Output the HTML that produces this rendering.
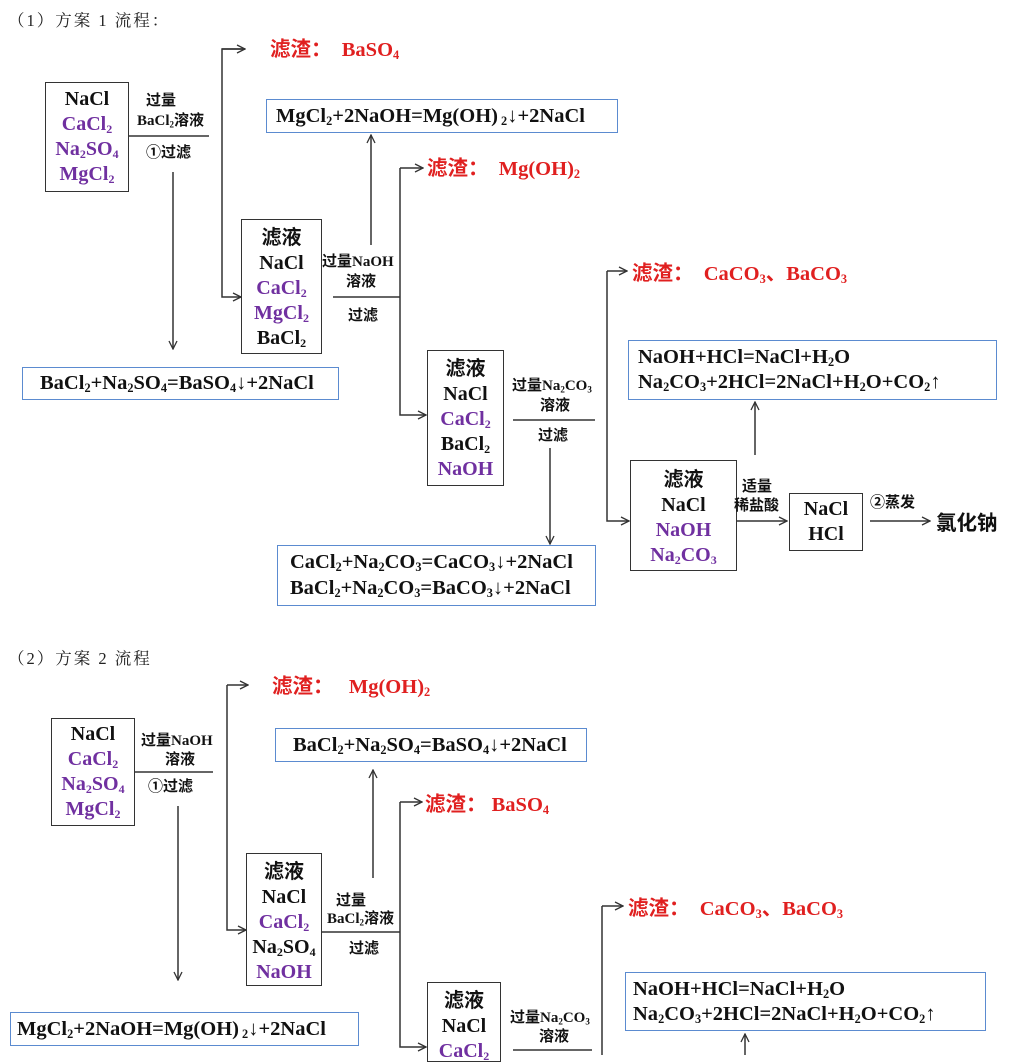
<!DOCTYPE html>
<html><head><meta charset="utf-8">
<style>
*{margin:0;padding:0;box-sizing:border-box}
body{width:1020px;height:1055px;background:#fff;position:relative;overflow:hidden;font-family:"Liberation Serif","Noto Serif CJK SC",serif;font-weight:bold;color:#111}
.t{position:absolute;white-space:nowrap;line-height:1}
.f{font-size:20.5px}
.s{font-size:15px;font-family:"Liberation Serif","Noto Sans CJK SC",sans-serif}
.cj{font-family:"Noto Sans CJK SC",sans-serif}
.p{color:#7030a0}
.r{color:#e02020}
.box{position:absolute;border:1.5px solid #333}
.eq{position:absolute;border:1.5px solid #5b8bd0}
.title{position:absolute;font-family:"Liberation Serif","Noto Serif CJK SC",serif;font-weight:normal;font-size:16.5px;letter-spacing:2px;color:#222}
sub{font-size:0.6em;vertical-align:-0.25em;line-height:0}
.ctr{position:absolute;text-align:center;font-size:20px;line-height:25px}
</style></head><body>
<svg width="1020" height="1055" style="position:absolute;left:0;top:0" fill="none" stroke="#333" stroke-width="1.5">
<defs><marker id="a" markerWidth="10" markerHeight="10" refX="9" refY="5" orient="auto" markerUnits="userSpaceOnUse"><path d="M1,1 L9,5 L1,9" fill="none" stroke="#333" stroke-width="1.3"/></marker></defs>
<line x1="128" y1="136" x2="209" y2="136"/>
<line x1="173" y1="172" x2="173" y2="349" marker-end="url(#a)"/>
<polyline points="245,49 222,49 222,297 241,297" marker-end="url(#a)"/>
<line x1="222" y1="49" x2="245" y2="49" marker-end="url(#a)"/>
<line x1="333" y1="297" x2="400" y2="297"/>
<line x1="371" y1="245" x2="371" y2="135" marker-end="url(#a)"/>
<polyline points="400,168 400,415 426,415" marker-end="url(#a)"/>
<line x1="400" y1="168" x2="423" y2="168" marker-end="url(#a)"/>
<line x1="513" y1="420" x2="595" y2="420"/>
<line x1="550" y1="448" x2="550" y2="544" marker-end="url(#a)"/>
<polyline points="607,271 607,521 629,521" marker-end="url(#a)"/>
<line x1="607" y1="271" x2="627" y2="271" marker-end="url(#a)"/>
<line x1="755" y1="455" x2="755" y2="402" marker-end="url(#a)"/>
<line x1="736" y1="521" x2="787" y2="521" marker-end="url(#a)"/>
<line x1="870" y1="521" x2="930" y2="521" marker-end="url(#a)"/>
<line x1="134" y1="772" x2="213" y2="772"/>
<line x1="178" y1="806" x2="178" y2="980" marker-end="url(#a)"/>
<polyline points="227,685 227,930 246,930" marker-end="url(#a)"/>
<line x1="227" y1="685" x2="248" y2="685" marker-end="url(#a)"/>
<line x1="322" y1="932" x2="400" y2="932"/>
<line x1="373" y1="878" x2="373" y2="770" marker-end="url(#a)"/>
<polyline points="400,802 400,1047 426,1047" marker-end="url(#a)"/>
<line x1="400" y1="802" x2="422" y2="802" marker-end="url(#a)"/>
<line x1="513" y1="1050" x2="592" y2="1050"/>
<line x1="602" y1="906" x2="602" y2="1055"/>
<line x1="602" y1="906" x2="623" y2="906" marker-end="url(#a)"/>
<line x1="745" y1="1055" x2="745" y2="1034" marker-end="url(#a)"/>
</svg>

<div class="title" style="left:8px;top:7px">（1）方案 1 流程：</div>

<div class="box" style="left:45px;top:82px;width:84px;height:110px"></div>
<div class="ctr" style="left:45px;top:87px;width:84px">NaCl<br><span class="p">CaCl<sub>2</sub></span><br><span class="p">Na<sub>2</sub>SO<sub>4</sub></span><br><span class="p">MgCl<sub>2</sub></span></div>
<div class="t s" style="left:146px;top:94px">过量</div>
<div class="t s" style="left:137px;top:114px">BaCl<sub>2</sub>溶液</div>
<div class="t s" style="left:146px;top:146px">①过滤</div>

<div class="eq" style="left:22px;top:367px;width:317px;height:33px"></div>
<div class="t f" style="left:40px;top:373px">BaCl<sub>2</sub>+Na<sub>2</sub>SO<sub>4</sub>=BaSO<sub>4</sub>↓+2NaCl</div>

<div class="t f r" style="left:270px;top:37px"><span class="cj">滤渣：</span>&nbsp;&nbsp;BaSO<sub>4</sub></div>
<div class="eq" style="left:266px;top:99px;width:352px;height:34px"></div>
<div class="t f" style="left:276px;top:106px">MgCl<sub>2</sub>+2NaOH=Mg(OH)<sub> 2</sub>↓+2NaCl</div>

<div class="box" style="left:241px;top:219px;width:81px;height:135px"></div>
<div class="ctr" style="left:241px;top:223px;width:81px"><span class="cj">滤液</span><br>NaCl<br><span class="p">CaCl<sub>2</sub></span><br><span class="p">MgCl<sub>2</sub></span><br>BaCl<sub>2</sub></div>
<div class="t s" style="left:322px;top:255px">过量NaOH</div>
<div class="t s" style="left:346px;top:275px">溶液</div>
<div class="t s" style="left:348px;top:309px">过滤</div>

<div class="t f r" style="left:427px;top:156px"><span class="cj">滤渣：</span>&nbsp;&nbsp;Mg(OH)<sub>2</sub></div>

<div class="box" style="left:427px;top:350px;width:77px;height:136px"></div>
<div class="ctr" style="left:427px;top:354px;width:77px"><span class="cj">滤液</span><br>NaCl<br><span class="p">CaCl<sub>2</sub></span><br>BaCl<sub>2</sub><br><span class="p">NaOH</span></div>
<div class="t s" style="left:512px;top:379px">过量Na<sub>2</sub>CO<sub>3</sub></div>
<div class="t s" style="left:540px;top:399px">溶液</div>
<div class="t s" style="left:538px;top:429px">过滤</div>

<div class="eq" style="left:277px;top:545px;width:319px;height:61px"></div>
<div class="t f" style="left:290px;top:552px">CaCl<sub>2</sub>+Na<sub>2</sub>CO<sub>3</sub>=CaCO<sub>3</sub>↓+2NaCl</div>
<div class="t f" style="left:290px;top:578px">BaCl<sub>2</sub>+Na<sub>2</sub>CO<sub>3</sub>=BaCO<sub>3</sub>↓+2NaCl</div>

<div class="t f r" style="left:632px;top:261px"><span class="cj">滤渣：</span>&nbsp;&nbsp;CaCO<sub>3</sub><span class="cj">、</span>BaCO<sub>3</sub></div>
<div class="eq" style="left:628px;top:340px;width:369px;height:60px"></div>
<div class="t f" style="left:638px;top:347px">NaOH+HCl=NaCl+H<sub>2</sub>O</div>
<div class="t f" style="left:638px;top:372px">Na<sub>2</sub>CO<sub>3</sub>+2HCl=2NaCl+H<sub>2</sub>O+CO<sub>2</sub>↑</div>

<div class="box" style="left:630px;top:460px;width:107px;height:111px"></div>
<div class="ctr" style="left:630px;top:465px;width:107px"><span class="cj">滤液</span><br>NaCl<br><span class="p">NaOH</span><br><span class="p">Na<sub>2</sub>CO<sub>3</sub></span></div>
<div class="t s" style="left:742px;top:480px">适量</div>
<div class="t s" style="left:734px;top:499px">稀盐酸</div>
<div class="box" style="left:789px;top:493px;width:74px;height:58px"></div>
<div class="ctr" style="left:789px;top:497px;width:74px">NaCl<br>HCl</div>
<div class="t s" style="left:870px;top:496px">②蒸发</div>
<div class="t f cj" style="left:936px;top:511px">氯化钠</div>

<div class="title" style="left:8px;top:645px">（2）方案 2 流程</div>

<div class="box" style="left:51px;top:718px;width:84px;height:108px"></div>
<div class="ctr" style="left:51px;top:722px;width:84px">NaCl<br><span class="p">CaCl<sub>2</sub></span><br><span class="p">Na<sub>2</sub>SO<sub>4</sub></span><br><span class="p">MgCl<sub>2</sub></span></div>
<div class="t s" style="left:141px;top:734px">过量NaOH</div>
<div class="t s" style="left:165px;top:753px">溶液</div>
<div class="t s" style="left:148px;top:780px">①过滤</div>

<div class="eq" style="left:10px;top:1012px;width:349px;height:34px"></div>
<div class="t f" style="left:17px;top:1019px">MgCl<sub>2</sub>+2NaOH=Mg(OH)<sub> 2</sub>↓+2NaCl</div>

<div class="t f r" style="left:272px;top:674px"><span class="cj">滤渣：</span>&nbsp;&nbsp;&nbsp;Mg(OH)<sub>2</sub></div>
<div class="eq" style="left:275px;top:728px;width:312px;height:34px"></div>
<div class="t f" style="left:293px;top:735px">BaCl<sub>2</sub>+Na<sub>2</sub>SO<sub>4</sub>=BaSO<sub>4</sub>↓+2NaCl</div>

<div class="box" style="left:246px;top:853px;width:76px;height:133px"></div>
<div class="ctr" style="left:246px;top:857px;width:76px"><span class="cj">滤液</span><br>NaCl<br><span class="p">CaCl<sub>2</sub></span><br>Na<sub>2</sub>SO<sub>4</sub><br><span class="p">NaOH</span></div>
<div class="t s" style="left:336px;top:894px">过量</div>
<div class="t s" style="left:327px;top:912px">BaCl<sub>2</sub>溶液</div>
<div class="t s" style="left:349px;top:942px">过滤</div>

<div class="t f r" style="left:425px;top:792px"><span class="cj">滤渣：</span>&nbsp;BaSO<sub>4</sub></div>

<div class="box" style="left:427px;top:982px;width:74px;height:80px"></div>
<div class="ctr" style="left:427px;top:986px;width:74px"><span class="cj">滤液</span><br>NaCl<br><span class="p">CaCl<sub>2</sub></span></div>
<div class="t s" style="left:510px;top:1011px">过量Na<sub>2</sub>CO<sub>3</sub></div>
<div class="t s" style="left:539px;top:1030px">溶液</div>

<div class="t f r" style="left:628px;top:896px"><span class="cj">滤渣：</span>&nbsp;&nbsp;CaCO<sub>3</sub><span class="cj">、</span>BaCO<sub>3</sub></div>
<div class="eq" style="left:625px;top:972px;width:361px;height:59px"></div>
<div class="t f" style="left:633px;top:979px">NaOH+HCl=NaCl+H<sub>2</sub>O</div>
<div class="t f" style="left:633px;top:1004px">Na<sub>2</sub>CO<sub>3</sub>+2HCl=2NaCl+H<sub>2</sub>O+CO<sub>2</sub>↑</div>
</body></html>
